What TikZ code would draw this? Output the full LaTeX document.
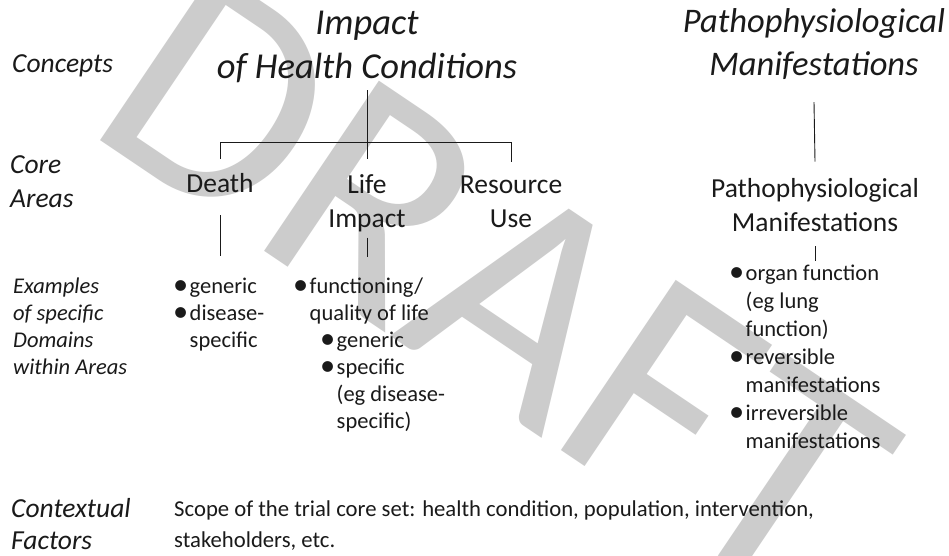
\documentclass[tikz,border=0pt]{standalone}
\usepackage{fontspec}
\setmainfont{Carlito}
\usepackage{graphicx}
\definecolor{ink}{HTML}{1A1A1A}
\newlength{\bulw}\setlength{\bulw}{16.5pt}
\newcommand{\bul}{\makebox[\bulw][l]{\raisebox{-1.5pt}{\scalebox{1.35}{\textbullet}}}}
\newcommand{\ind}{\hspace*{\bulw}}
\begin{document}
\begin{tikzpicture}[x=1pt,y=1pt,
  title/.style={font=\fontsize{34.5}{43}\selectfont\itshape, align=center, anchor=base, inner sep=0pt, text=ink},
  rowlab/.style={font=\fontsize{27.5}{34}\selectfont\itshape, align=left, anchor=base west, inner sep=0pt, text=ink},
  area/.style={font=\fontsize{27.5}{34}\selectfont, align=center, anchor=base, inner sep=0pt, text=ink},
  exlab/.style={font=\fontsize{22.5}{27}\selectfont\itshape, align=left, anchor=base west, inner sep=0pt, text=ink},
  exlist/.style={font=\fontsize{22.5}{27}\selectfont, align=left, anchor=base west, inner sep=0pt, text=ink},
  conn/.style={draw=ink, line width=0.9pt},
  wm/.style={font=\fontsize{320}{320}\selectfont, text=black!20, inner sep=0pt}
]
\useasboundingbox (0,0) rectangle (949,-556);
\fill[white] (0,0) rectangle (949,-556);
\begin{scope}
\clip (0,0) rectangle (949,-556);
\node[wm, rotate=-34] (draft) at (496,-283) {DRAFT};
\end{scope}

% row labels (anchor = baseline of last line)
\node[rowlab] (concepts) at (12,-73) {Concepts};
\node[rowlab] (core) at (10,-207) {Core\\Areas};
\node[exlab] (examples) at (13,-374) {Examples\\of specific\\Domains\\within Areas};
\node[rowlab, font=\fontsize{27.5}{32}\selectfont\itshape] (context) at (11,-549) {Contextual\\Factors};

% concepts
\node[title, font=\fontsize{36.5}{44}\selectfont\itshape] (impact) at (367,-79) {Impact\\of Health Conditions};
\node[title] (pmt) at (814,-76) {Pathophysiological\\Manifestations};

% core areas
\node[area] (death) at (220,-193) {Death};
\node[area] (life) at (367,-227) {Life\\Impact};
\node[area] (resource) at (511,-227) {Resource\\Use};
\node[area] (pml) at (815,-231) {Pathophysiological\\Manifestations};

% domains
\node[exlist] (deathlist) at (173,-347) {\bul generic\\\bul disease-\\\ind specific};
\node[exlist] (lifelist) at (293,-428) {\bul functioning/\\\ind quality of life\\\hspace*{27pt}\bul generic\\\hspace*{27pt}\bul specific\\\hspace*{27pt}\ind (eg disease-\\\hspace*{27pt}\ind specific)};
\node[exlist, font=\fontsize{22.5}{28}\selectfont] (pmlist) at (729,-448) {\bul organ function\\\ind (eg lung\\\ind function)\\\bul reversible\\\ind manifestations\\\bul irreversible\\\ind manifestations};

% contextual
\node[exlist, font=\fontsize{22.7}{31}\selectfont] (scope) at (174,-547) {Scope of the trial core set: health condition, population, intervention,\\stakeholders, etc.};

% connectors
\coordinate (bar) at (367,-142);
\draw[conn] ([yshift=-7pt]impact.south) -- ([yshift=15pt]life.north);
\draw[conn] ([yshift=15pt]death.north) -- (death.north |- bar) -- (resource.north |- bar) -- ([yshift=13pt]resource.north);
\draw[conn] ([yshift=-22pt]death.south) -- ++(0,-41);
\draw[conn] ([yshift=-6pt]life.south) -- ++(0,-19);
\draw[conn] ([yshift=-22pt]pmt.south) -- ([yshift=16pt]pml.north);
\draw[conn] ([yshift=-15pt]pml.south) -- ++(0,-15);
\end{tikzpicture}
\end{document}
